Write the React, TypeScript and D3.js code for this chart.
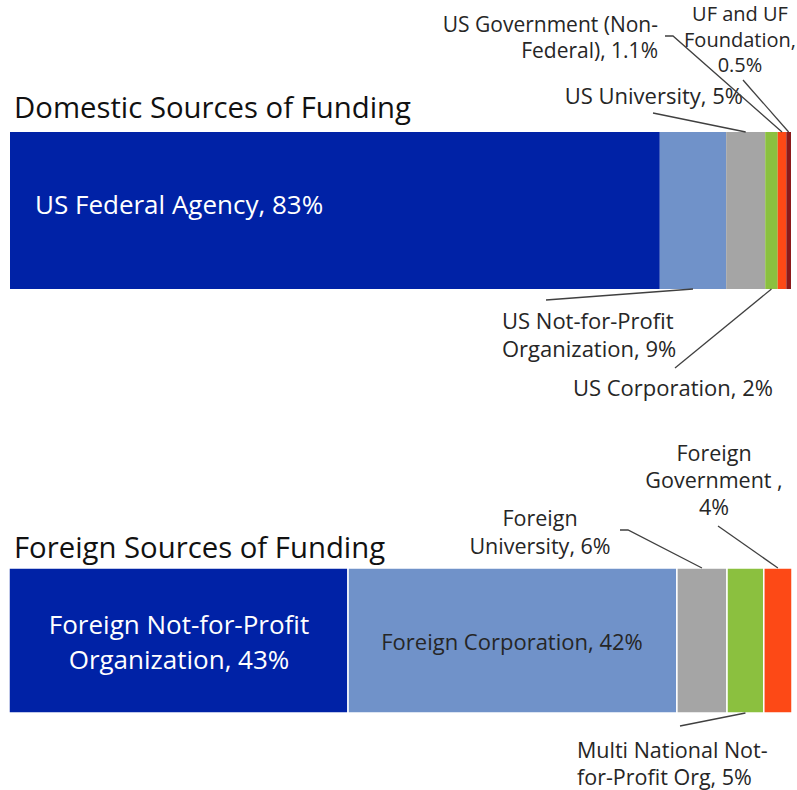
import React from "react";
import * as d3 from "d3";

// ---- Data ----
const domesticCategories = [
  "US Federal Agency",
  "US Not-for-Profit Organization",
  "US University",
  "US Corporation",
  "US Government (Non-Federal)",
  "UF and UF Foundation",
];
const domesticValues = [83.2, 8.5, 5.0, 1.6, 1.1, 0.6];
const domesticLabels = [
  ["US Federal Agency, 83%"],
  ["US Not-for-Profit", "Organization, 9%"],
  ["US University, 5%"],
  ["US Corporation, 2%"],
  ["US Government (Non-", "Federal), 1.1%"],
  ["UF and UF", "Foundation,", "0.5%"],
];

const foreignCategories = [
  "Foreign Not-for-Profit Organization",
  "Foreign Corporation",
  "Foreign University",
  "Multi National Not-for-Profit Org",
  "Foreign Government",
];
const foreignValues = [43.3, 42.0, 6.4, 4.7, 3.6];
const foreignLabels = [
  ["Foreign Not-for-Profit", "Organization, 43%"],
  ["Foreign Corporation, 42%"],
  ["Foreign", "University, 6%"],
  ["Multi National Not-", "for-Profit Org, 5%"],
  ["Foreign", "Government ,", "4%"],
];

const domesticColors = ["#0022a6", "#7092c9", "#a5a5a5", "#8bc03f", "#fd4916", "#8b1a1a"];
const foreignColors = ["#0022a6", "#7092c9", "#a5a5a5", "#8bc03f", "#fd4916"];

// ---- Label layout (position of text, relative to page) ----
type LabelCfg = {
  x: number;
  y: number; // baseline of first line
  anchor: "start" | "middle" | "end";
  size: number;
  fill: string;
  lh: number;
  leader?: { from: [number, number]; elbow?: [number, number]; edge: "top" | "bottom" };
};

const FONT = "'Open Sans', sans-serif";
const TXT = "#262626";

const domesticLayout: LabelCfg[] = [
  { x: 35, y: 214, anchor: "start", size: 26, fill: "#ffffff", lh: 30 },
  { x: 502, y: 329, anchor: "start", size: 22, fill: TXT, lh: 28, leader: { from: [546, 300], edge: "bottom" } },
  { x: 743, y: 104, anchor: "end", size: 22, fill: TXT, lh: 28, leader: { from: [653, 113], edge: "top" } },
  { x: 773, y: 396, anchor: "end", size: 22, fill: TXT, lh: 28, leader: { from: [675, 368], edge: "bottom" } },
  { x: 658, y: 32, anchor: "end", size: 21, fill: TXT, lh: 26, leader: { from: [665, 36], elbow: [673, 36], edge: "top" } },
  { x: 740, y: 21, anchor: "middle", size: 20, fill: TXT, lh: 25.5, leader: { from: [743, 80], edge: "top" } },
];

const foreignLayout: LabelCfg[] = [
  { x: 179, y: 634, anchor: "middle", size: 26, fill: "#ffffff", lh: 35 },
  { x: 512, y: 650, anchor: "middle", size: 22, fill: TXT, lh: 28 },
  { x: 540, y: 526, anchor: "middle", size: 21.5, fill: TXT, lh: 28, leader: { from: [620, 530], elbow: [628, 530], edge: "top" } },
  { x: 577, y: 758, anchor: "start", size: 21.5, fill: TXT, lh: 27, leader: { from: [680, 726], edge: "bottom" } },
  { x: 714, y: 461, anchor: "middle", size: 21.5, fill: TXT, lh: 27, leader: { from: [718, 526], edge: "top" } },
];

type BarProps = {
  values: number[];
  colors: string[];
  labels: string[][];
  layout: LabelCfg[];
  x0: number;
  x1: number;
  y0: number;
  y1: number;
  title: string;
  titleY: number;
  separators: boolean;
  names: string[];
};

function StackBar(p: BarProps) {
  const total = d3.sum(p.values);
  const x = d3.scaleLinear().domain([0, total]).range([p.x0, p.x1]);
  const y = d3.scaleBand().domain(["bar"]).range([p.y0, p.y1]).padding(0);
  const stack = d3
    .stack<Record<string, number>>()
    .keys(p.names)([Object.fromEntries(p.names.map((n, i) => [n, p.values[i]]))]);
  const by = y("bar") as number;
  const bh = y.bandwidth();
  return (
    <g>
      <text x={14} y={p.titleY} fontSize={29.3} fontFamily={FONT} fill="#111">
        {p.title}
      </text>
      {stack.map((s, i) => (
        <rect
          key={p.names[i]}
          x={x(s[0][0])}
          y={by}
          width={x(s[0][1]) - x(s[0][0])}
          height={bh}
          fill={p.colors[i]}
          stroke={p.separators ? "#ffffff" : "none"}
          strokeWidth={p.separators ? 1.5 : 0}
        />
      ))}
      {stack.map((s, i) => {
        const cfg = p.layout[i];
        const cx = x((s[0][0] + s[0][1]) / 2);
        const ly = cfg.leader ? (cfg.leader.edge === "top" ? by : by + bh) : 0;
        const pts: [number, number][] = cfg.leader
          ? [cfg.leader.from, ...(cfg.leader.elbow ? [cfg.leader.elbow] : []), [cx, ly]]
          : [];
        return (
          <g key={"l" + i}>
            {cfg.leader && (
              <path d={d3.line()(pts) || ""} fill="none" stroke="#404040" strokeWidth={1.3} />
            )}
            <text
              x={cfg.x}
              y={cfg.y}
              textAnchor={cfg.anchor}
              fontSize={cfg.size}
              fontFamily={FONT}
              fill={cfg.fill}
            >
              {p.labels[i].map((t, j) => (
                <tspan key={j} x={cfg.x} dy={j === 0 ? 0 : cfg.lh}>
                  {t}
                </tspan>
              ))}
            </text>
          </g>
        );
      })}
    </g>
  );
}

export default function App() {
  return (
    <svg
      width={797}
      height={790}
      style={{ position: "absolute", left: 0, top: 0, background: "#fff" }}
    >
      <rect width={797} height={790} fill="#fff" />
      <StackBar
        values={domesticValues}
        colors={domesticColors}
        labels={domesticLabels}
        layout={domesticLayout}
        names={domesticCategories}
        x0={10}
        x1={791}
        y0={132}
        y1={289}
        title="Domestic Sources of Funding"
        titleY={118}
        separators={false}
      />
      <StackBar
        values={foreignValues}
        colors={foreignColors}
        labels={foreignLabels}
        layout={foreignLayout}
        names={foreignCategories}
        x0={9}
        x1={792}
        y0={568}
        y1={713}
        title="Foreign Sources of Funding"
        titleY={558}
        separators={true}
      />
    </svg>
  );
}
